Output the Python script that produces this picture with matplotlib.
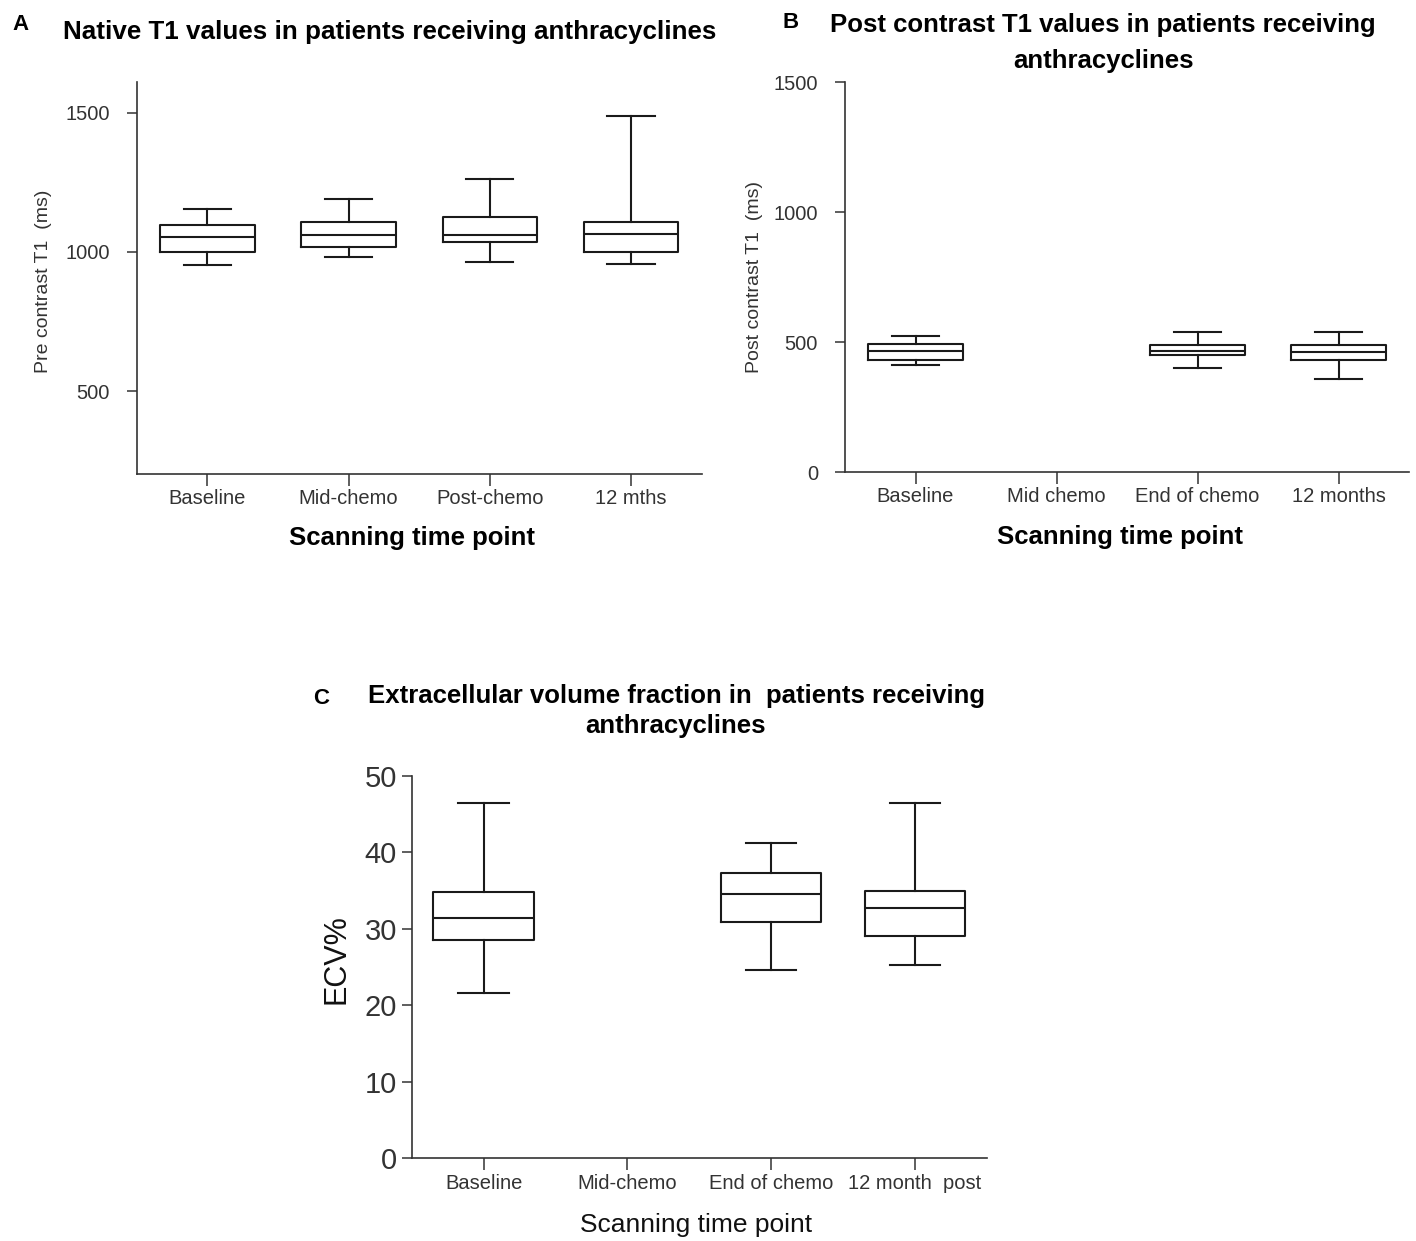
import matplotlib
matplotlib.use("Agg")
import matplotlib.pyplot as plt

plt.rcParams['font.family'] = ['Liberation Sans', 'DejaVu Sans']

# Panel A: native T1 (ms)
labels_a = ["Baseline", "Mid-chemo", "Post-chemo", "12 mths"]
a_whislo = [954, 982, 963, 958]
a_q1 = [1000, 1019, 1036, 1000]
a_med = [1052, 1061, 1061, 1066]
a_q3 = [1098, 1107, 1126, 1107]
a_whishi = [1154, 1191, 1261, 1487]

# Panel B: post contrast T1 (ms), no mid-chemo data
labels_b = ["Baseline", "Mid chemo", "End of chemo", "12 months"]
b_pos = [1, 3, 4]
b_whislo = [411, 401, 356]
b_q1 = [430, 449, 430]
b_med = [467, 466, 462]
b_q3 = [494, 490, 490]
b_whishi = [525, 540, 540]

# Panel C: ECV%, no mid-chemo data
labels_c = ["Baseline", "Mid-chemo", "End of chemo", "12 month  post"]
c_pos = [1, 3, 4]
c_whislo = [21.6, 24.6, 25.3]
c_q1 = [28.6, 30.9, 29.1]
c_med = [31.45, 34.6, 32.8]
c_q3 = [34.8, 37.25, 34.9]
c_whishi = [46.5, 41.25, 46.5]

W, H = 1416, 1241
TXT = '#333333'


def make_stats(lo, q1, med, q3, hi):
    return [dict(whislo=a, q1=b, med=c, q3=d, whishi=e, fliers=[])
            for a, b, c, d, e in zip(lo, q1, med, q3, hi)]


def draw_boxes(ax, stats, pos, width):
    line = dict(color='#1a1a1a', linewidth=1.5)
    ax.bxp(stats, positions=pos, widths=width, showfliers=False,
           boxprops=line, medianprops=line, whiskerprops=line,
           capprops=line, capwidths=width / 2, manage_ticks=False)


def style_axes(ax, labels, tick_fs, ypad):
    for s in ['top', 'right']:
        ax.spines[s].set_visible(False)
    for s in ['left', 'bottom']:
        ax.spines[s].set_color('#333333')
        ax.spines[s].set_linewidth(1.2)
    ax.set_xlim(0.5, 4.5)
    ax.set_xticks(range(1, 5))
    ax.set_xticklabels(labels)
    ax.tick_params(axis='x', length=8.5, width=1.1, color='#333333',
                   labelsize=14.5, labelcolor=TXT, pad=2.5)
    ax.tick_params(axis='y', length=7.5, width=1.1, color='#333333',
                   labelsize=tick_fs, labelcolor=TXT, pad=ypad)


def axes_at(x0, y0, x1, y1):
    return fig.add_axes([x0 / W, 1 - y1 / H, (x1 - x0) / W, (y1 - y0) / H])


fig = plt.figure(figsize=(W / 100, H / 100), dpi=100)

# ---- A
ax = axes_at(136.7, 82, 701.7, 473.7)
draw_boxes(ax, make_stats(a_whislo, a_q1, a_med, a_q3, a_whishi), [1, 2, 3, 4], 0.67)
style_axes(ax, labels_a, 14.5, 12)
ax.set_ylim(204, 1610)
ax.set_yticks([500, 1000, 1500])
ax.set_ylabel("Pre contrast T1  (ms)", fontsize=14, color=TXT)
ax.yaxis.set_label_coords(-0.15, 0.49)
ax.set_xlabel("Scanning time point", fontsize=18.5, fontweight='bold')
ax.xaxis.label.set_va('center')
ax.xaxis.set_label_coords(0.487, -0.164)
fig.text(63 / W, 1 - 32 / H, "Native T1 values in patients receiving anthracyclines",
         fontsize=18.7, fontweight='bold', ha='left', va='center')
fig.text(12 / W, 1 - 24 / H, "A", fontsize=16, fontweight='bold', ha='left', va='center')

# ---- B
ax = axes_at(845, 82, 1409, 472)
draw_boxes(ax, make_stats(b_whislo, b_q1, b_med, b_q3, b_whishi), b_pos, 0.67)
style_axes(ax, labels_b, 14.5, 12)
ax.set_ylim(0, 1500)
ax.set_yticks([0, 500, 1000, 1500])
ax.set_ylabel("Post contrast T1  (ms)", fontsize=14, color=TXT)
ax.yaxis.set_label_coords(-0.145, 0.5)
ax.set_xlabel("Scanning time point", fontsize=18.5, fontweight='bold')
ax.xaxis.label.set_va('center')
ax.xaxis.set_label_coords(0.487, -0.167)
fig.text(1103 / W, 1 - 43 / H, "Post contrast T1 values in patients receiving\nanthracyclines",
         fontsize=18.5, fontweight='bold', ha='center', va='center', linespacing=1.6)
fig.text(783 / W, 1 - 22 / H, "B", fontsize=16, fontweight='bold', ha='left', va='center')

# ---- C
ax = axes_at(411.7, 776, 986.7, 1158.3)
draw_boxes(ax, make_stats(c_whislo, c_q1, c_med, c_q3, c_whishi), c_pos, 0.7)
style_axes(ax, labels_c, 21, 3)
ax.set_ylim(0, 50)
ax.set_yticks(range(0, 51, 10))
ax.set_ylabel("ECV%", fontsize=22, color='#111111')
ax.yaxis.set_label_coords(-0.104, 0.52)
ax.set_xlabel("Scanning time point", fontsize=19, color='#111111')
ax.xaxis.label.set_va('center')
ax.xaxis.set_label_coords(0.495, -0.175)
fig.text(676 / W, 1 - 711 / H, "Extracellular volume fraction in  patients receiving\nanthracyclines",
         fontsize=18.5, fontweight='bold', ha='center', va='center', linespacing=1.35)
fig.text(313 / W, 1 - 698 / H, "C", fontsize=16, fontweight='bold', ha='left', va='center')

fig.savefig("out.png", dpi=100)
